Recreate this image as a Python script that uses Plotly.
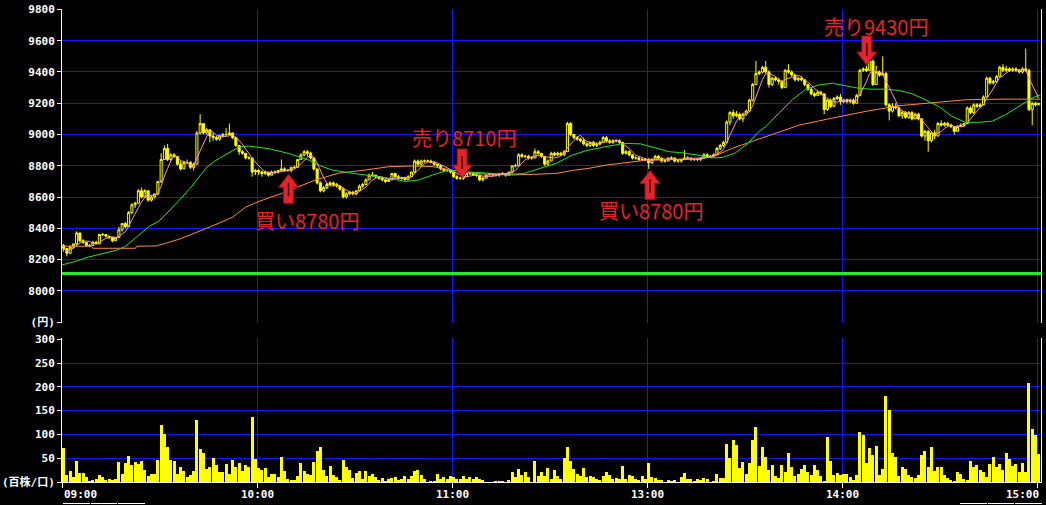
import plotly.graph_objects as go
import pandas as pd

# ---------------- data ----------------
# 1-minute bars, index 0 = 09:00 ... 149 = 11:29, 150 = 12:30 ... 300 = 15:00
SESSION_TICKS = [0, 60, 120, 180, 240, 300]
TICK_LABELS = ["09:00", "10:00", "11:00", "13:00", "14:00", "15:00"]

open_ = [
    8290, 8270, 8240, 8280, 8300, 8370, 8320, 8310, 8290, 8290,
    8310, 8300, 8360, 8360, 8350, 8340, 8320, 8340, 8390, 8430,
    8410, 8500, 8550, 8560, 8640, 8600, 8640, 8580, 8600, 8620,
    8700, 8840, 8910, 8840, 8870, 8860, 8810, 8780, 8820, 8820,
    8790, 8810, 9010, 9070, 9010, 9030, 8990, 8980, 8970, 8990,
    9000, 9000, 9010, 8980, 8930, 8890, 8880, 8850, 8850, 8760,
    8770, 8760, 8750, 8760, 8740, 8760, 8760, 8770, 8780, 8770,
    8770, 8790, 8790, 8840, 8870, 8890, 8880, 8850, 8780, 8690,
    8640, 8660, 8680, 8690, 8680, 8670, 8650, 8600, 8620, 8630,
    8620, 8640, 8670, 8680, 8710, 8740, 8740, 8730, 8720, 8710,
    8700, 8710, 8750, 8730, 8720, 8720, 8710, 8730, 8760, 8830,
    8810, 8830, 8830, 8830, 8820, 8810, 8800, 8780, 8770, 8770,
    8760, 8730, 8720, 8720, 8730, 8750, 8750, 8740, 8740, 8710,
    8720, 8740, 8750, 8740, 8740, 8750, 8750, 8740, 8760, 8800,
    8800, 8870, 8860, 8860, 8850, 8850, 8890, 8880, 8860, 8810,
    8830, 8880, 8870, 8880, 8870, 8890, 9070, 9000, 8980, 8970,
    8960, 8940, 8930, 8950, 8930, 8940, 8950, 8980, 8960, 8950,
    8960, 8960, 8950, 8880, 8890, 8870, 8850, 8850, 8840, 8840,
    8840, 8820, 8840, 8860, 8850, 8830, 8830, 8850, 8850, 8830,
    8830, 8840, 8850, 8850, 8840, 8840, 8840, 8850, 8870, 8860,
    8860, 8870, 8910, 8930, 8950, 9080, 9140, 9120, 9130, 9100,
    9130, 9150, 9220, 9320, 9390, 9400, 9430, 9400, 9320, 9360,
    9350, 9340, 9300, 9410, 9400, 9380, 9350, 9360, 9350, 9320,
    9290, 9260, 9250, 9270, 9260, 9160, 9220, 9180, 9230, 9240,
    9210, 9220, 9210, 9220, 9200, 9250, 9410, 9420, 9410, 9470,
    9320, 9400, 9380, 9390, 9190, 9150, 9180, 9170, 9120, 9140,
    9110, 9140, 9100, 9130, 9100, 8990, 9020, 8960, 9010, 8990,
    9070, 9060, 9070, 9060, 9050, 9020, 9050, 9060, 9070, 9170,
    9140, 9190, 9180, 9190, 9240, 9360, 9330, 9340, 9370, 9430,
    9410, 9420, 9410, 9420, 9410, 9400, 9420, 9410, 9160, 9200,
    9190,
]
high = [
    8300, 8270, 8290, 8300, 8380, 8370, 8330, 8310, 8300, 8320,
    8320, 8360, 8370, 8360, 8350, 8340, 8340, 8410, 8430, 8440,
    8510, 8560, 8570, 8650, 8660, 8650, 8640, 8610, 8620, 8700,
    8880, 8930, 8940, 8880, 8880, 8860, 8830, 8830, 8840, 8830,
    8820, 9020, 9130, 9070, 9040, 9030, 9010, 8990, 9000, 9010,
    9040, 9070, 9010, 8980, 8930, 8900, 8880, 8860, 8850, 8780,
    8780, 8770, 8770, 8760, 8770, 8770, 8770, 8840, 8790, 8780,
    8790, 8800, 8840, 8880, 8900, 8900, 8890, 8850, 8780, 8700,
    8670, 8690, 8700, 8700, 8690, 8670, 8660, 8630, 8640, 8640,
    8640, 8680, 8690, 8720, 8750, 8760, 8740, 8730, 8730, 8710,
    8720, 8750, 8750, 8740, 8730, 8730, 8740, 8760, 8840, 8840,
    8840, 8840, 8840, 8840, 8830, 8810, 8800, 8780, 8780, 8770,
    8760, 8740, 8730, 8730, 8760, 8760, 8760, 8750, 8740, 8730,
    8740, 8750, 8750, 8750, 8750, 8760, 8750, 8760, 8800, 8810,
    8880, 8880, 8870, 8870, 8860, 8910, 8900, 8880, 8860, 8840,
    8890, 8890, 8890, 8890, 8900, 9080, 9080, 9000, 8990, 8980,
    8980, 8950, 8950, 8960, 8950, 8960, 8990, 8990, 8970, 8970,
    8970, 8970, 8950, 8900, 8900, 8870, 8860, 8860, 8850, 8850,
    8850, 8850, 8870, 8870, 8850, 8840, 8850, 8860, 8850, 8840,
    8840, 8900, 8860, 8850, 8850, 8850, 8850, 8880, 8880, 8870,
    8880, 8920, 8940, 8960, 9090, 9150, 9160, 9150, 9140, 9140,
    9160, 9230, 9330, 9470, 9410, 9440, 9470, 9410, 9370, 9370,
    9360, 9350, 9420, 9450, 9410, 9390, 9370, 9370, 9350, 9320,
    9300, 9270, 9280, 9280, 9260, 9230, 9230, 9240, 9250, 9260,
    9230, 9230, 9230, 9230, 9260, 9420, 9430, 9440, 9480, 9480,
    9440, 9410, 9500, 9400, 9200, 9200, 9200, 9180, 9150, 9150,
    9150, 9150, 9140, 9140, 9100, 9030, 9030, 9020, 9030, 9080,
    9090, 9080, 9080, 9070, 9050, 9060, 9070, 9070, 9180, 9180,
    9200, 9200, 9200, 9250, 9370, 9370, 9350, 9380, 9440, 9450,
    9440, 9430, 9430, 9430, 9420, 9430, 9550, 9420, 9210, 9210,
    9200,
]
low = [
    8250, 8220, 8240, 8270, 8290, 8310, 8300, 8280, 8280, 8290,
    8300, 8300, 8350, 8340, 8330, 8310, 8320, 8340, 8380, 8400,
    8410, 8490, 8530, 8560, 8590, 8600, 8570, 8570, 8590, 8610,
    8690, 8840, 8830, 8830, 8850, 8800, 8770, 8780, 8810, 8780,
    8770, 8810, 9000, 9000, 9000, 8950, 8960, 8960, 8960, 8980,
    8990, 9000, 8970, 8920, 8870, 8870, 8840, 8840, 8730, 8740,
    8740, 8730, 8740, 8730, 8740, 8750, 8750, 8760, 8760, 8760,
    8760, 8780, 8790, 8840, 8860, 8860, 8840, 8770, 8680, 8630,
    8630, 8650, 8670, 8670, 8660, 8640, 8590, 8590, 8610, 8610,
    8610, 8640, 8660, 8680, 8710, 8730, 8720, 8710, 8700, 8690,
    8700, 8710, 8720, 8710, 8710, 8710, 8710, 8730, 8750, 8800,
    8800, 8820, 8820, 8820, 8800, 8790, 8770, 8760, 8760, 8750,
    8720, 8710, 8710, 8710, 8730, 8740, 8740, 8730, 8700, 8700,
    8720, 8740, 8730, 8730, 8730, 8740, 8730, 8740, 8750, 8790,
    8800, 8850, 8850, 8840, 8840, 8850, 8870, 8850, 8800, 8800,
    8830, 8860, 8860, 8860, 8860, 8890, 8990, 8970, 8960, 8950,
    8930, 8920, 8920, 8920, 8920, 8930, 8950, 8950, 8940, 8940,
    8950, 8940, 8870, 8870, 8860, 8840, 8840, 8830, 8830, 8830,
    8780, 8810, 8840, 8840, 8820, 8820, 8830, 8840, 8820, 8820,
    8820, 8840, 8840, 8830, 8830, 8830, 8830, 8850, 8850, 8850,
    8860, 8870, 8900, 8920, 8940, 9060, 9100, 9110, 9090, 9080,
    9120, 9150, 9210, 9320, 9380, 9390, 9390, 9300, 9310, 9340,
    9320, 9290, 9300, 9390, 9370, 9340, 9340, 9340, 9310, 9280,
    9250, 9240, 9250, 9250, 9130, 9150, 9170, 9180, 9220, 9190,
    9200, 9200, 9200, 9190, 9200, 9250, 9400, 9400, 9410, 9310,
    9320, 9370, 9380, 9180, 9090, 9140, 9160, 9110, 9100, 9100,
    9100, 9090, 9100, 9090, 8980, 8960, 8890, 8950, 8970, 8990,
    9050, 9050, 9050, 9040, 9000, 9020, 9050, 9050, 9070, 9130,
    9130, 9170, 9170, 9190, 9240, 9320, 9320, 9330, 9370, 9400,
    9400, 9400, 9400, 9400, 9390, 9390, 9400, 9150, 9060, 9180,
    9190,
]
close = [
    8270, 8240, 8280, 8300, 8370, 8320, 8310, 8290, 8290, 8310,
    8300, 8360, 8360, 8350, 8340, 8320, 8340, 8390, 8430, 8410,
    8500, 8550, 8560, 8640, 8600, 8640, 8580, 8600, 8620, 8700,
    8840, 8910, 8840, 8870, 8860, 8810, 8780, 8820, 8820, 8790,
    8810, 9010, 9070, 9010, 9030, 8990, 8980, 8970, 8990, 9000,
    9000, 9010, 8980, 8930, 8890, 8880, 8850, 8850, 8760, 8770,
    8760, 8750, 8760, 8740, 8760, 8760, 8770, 8780, 8770, 8770,
    8790, 8790, 8840, 8870, 8890, 8880, 8850, 8780, 8690, 8640,
    8660, 8680, 8690, 8680, 8670, 8650, 8600, 8620, 8630, 8620,
    8640, 8670, 8680, 8710, 8740, 8740, 8730, 8720, 8710, 8700,
    8710, 8750, 8730, 8720, 8720, 8710, 8730, 8760, 8830, 8810,
    8830, 8830, 8830, 8820, 8810, 8800, 8780, 8770, 8770, 8760,
    8730, 8720, 8720, 8730, 8750, 8750, 8740, 8740, 8710, 8720,
    8740, 8750, 8740, 8740, 8750, 8750, 8740, 8760, 8800, 8800,
    8870, 8860, 8860, 8850, 8850, 8890, 8880, 8860, 8810, 8830,
    8880, 8870, 8880, 8870, 8890, 9070, 9000, 8980, 8970, 8960,
    8940, 8930, 8950, 8930, 8940, 8950, 8980, 8960, 8950, 8960,
    8960, 8950, 8880, 8890, 8870, 8850, 8850, 8840, 8840, 8840,
    8820, 8840, 8860, 8850, 8830, 8830, 8850, 8850, 8830, 8830,
    8840, 8850, 8850, 8840, 8840, 8840, 8850, 8870, 8860, 8860,
    8870, 8910, 8930, 8950, 9080, 9140, 9120, 9130, 9100, 9130,
    9150, 9220, 9320, 9390, 9400, 9430, 9400, 9320, 9360, 9350,
    9340, 9300, 9410, 9400, 9380, 9350, 9360, 9350, 9320, 9290,
    9260, 9250, 9270, 9260, 9160, 9220, 9180, 9230, 9240, 9210,
    9220, 9210, 9220, 9200, 9250, 9410, 9420, 9410, 9470, 9320,
    9400, 9380, 9390, 9190, 9150, 9180, 9170, 9120, 9140, 9110,
    9140, 9100, 9130, 9100, 8990, 9020, 8960, 9010, 8990, 9070,
    9060, 9070, 9060, 9050, 9020, 9050, 9060, 9070, 9170, 9140,
    9190, 9180, 9190, 9240, 9360, 9330, 9340, 9370, 9430, 9410,
    9420, 9410, 9420, 9410, 9400, 9420, 9410, 9160, 9200, 9190,
    9200,
]
# volume in units of 100 shares
volume = [
    72, 14, 24, 10, 45, 18, 18, 10, 3, 5,
    7, 15, 10, 4, 7, 5, 7, 43, 17, 40,
    55, 35, 42, 38, 45, 26, 12, 16, 16, 47,
    120, 101, 74, 47, 45, 16, 32, 24, 10, 14,
    24, 130, 70, 60, 28, 32, 51, 36, 20, 20,
    37, 16, 46, 32, 39, 24, 36, 32, 136, 49,
    29, 26, 30, 10, 17, 17, 10, 53, 24, 7,
    5, 5, 13, 40, 24, 17, 15, 42, 66, 74,
    26, 13, 34, 15, 10, 5, 47, 32, 26, 9,
    19, 24, 7, 24, 13, 17, 11, 5, 9, 3,
    7, 9, 11, 5, 7, 12, 7, 12, 24, 26,
    15, 7, 0, 2, 2, 17, 7, 10, 7, 12,
    10, 7, 7, 12, 7, 10, 7, 10, 7, 5,
    0, 0, 0, 2, 2, 2, 0, 5, 20, 10,
    28, 15, 22, 10, 0, 44, 12, 22, 12, 30,
    7, 26, 13, 7, 51, 74, 44, 28, 17, 13,
    30, 10, 13, 10, 7, 5, 12, 22, 15, 7,
    9, 7, 34, 7, 15, 13, 7, 5, 12, 7,
    40, 11, 9, 5, 5, 0, 5, 3, 5, 0,
    11, 19, 7, 7, 3, 7, 5, 9, 7, 0,
    3, 17, 9, 9, 80, 51, 88, 78, 30, 42,
    17, 40, 88, 115, 34, 74, 53, 26, 36, 13,
    9, 35, 20, 61, 31, 12, 16, 28, 35, 22,
    14, 35, 26, 12, 3, 95, 45, 14, 19, 14,
    17, 16, 10, 5, 15, 105, 99, 39, 72, 56,
    76, 15, 28, 180, 151, 61, 53, 12, 32, 28,
    14, 10, 9, 15, 57, 65, 31, 74, 24, 32,
    32, 14, 9, 5, 3, 22, 17, 7, 5, 44,
    31, 36, 26, 22, 11, 38, 53, 32, 38, 26,
    61, 49, 34, 38, 22, 40, 22, 209, 111, 99,
    59,
]

# medium moving average (green): bar index / price
ma_mid_idx = [0, 4, 8, 12, 16.5, 19.6, 21.6, 24.7, 27, 29.8, 31.9, 35, 40, 44.5,
              47, 50.4, 54.5, 57.5, 60.6, 63.7, 69.8, 76, 79, 83, 88, 94, 100.6,
              105.7, 109.8, 114, 119, 124, 131, 137, 142, 147, 152, 157, 161, 167,
              173, 178, 183, 187, 190, 195, 200, 203, 207, 211, 214.5, 216.5, 220.6,
              224.7, 228.8, 232.9, 237, 241, 245, 249, 253, 257.5, 261.6, 265.6,
              269.7, 273.8, 277.9, 282, 286.2, 290.3, 294.4, 298.5, 301]
ma_mid_val = [8166, 8187, 8215, 8237, 8258, 8285, 8320, 8380, 8415, 8445, 8490, 8555,
              8670, 8790, 8830, 8870, 8921, 8926, 8917, 8909, 8878, 8836, 8804, 8773,
              8756, 8741, 8720, 8699, 8709, 8741, 8773, 8762, 8755, 8745, 8750, 8783,
              8815, 8868, 8895, 8921, 8943, 8940, 8911, 8889, 8885, 8870, 8850, 8853,
              8880, 8943, 9021, 9050, 9138, 9222, 9290, 9317, 9328, 9311, 9296, 9290,
              9290, 9282, 9260, 9222, 9180, 9116, 9078, 9078, 9085, 9127, 9180, 9233,
              9254]
# long moving average (orange)
ma_long_idx = [0, 9, 9.5, 22.6, 23, 29, 31.9, 36, 40, 44, 48, 52.4, 56.5, 60.6, 67.8,
               78, 85, 93.4, 100.6, 106.7, 114, 119, 125, 131, 137.5, 145, 152, 157,
               162, 167.3, 173.4, 179.5, 186.7, 190, 196, 200, 206, 216.5, 226.8, 237,
               247.3, 257.5, 267.8, 278, 288.3, 301]
ma_long_val = [8285, 8285, 8272, 8272, 8285, 8287, 8304, 8330, 8362, 8395, 8430, 8470,
               8535, 8572, 8625, 8709, 8752, 8773, 8794, 8798, 8795, 8775, 8755, 8745,
               8741, 8745, 8751, 8770, 8783, 8804, 8819, 8835, 8838, 8842, 8852, 8855,
               8910, 8985, 9060, 9105, 9148, 9184, 9205, 9222, 9226, 9226]

ref_price = 8110          # bright green horizontal reference line
price_ticks = [7800, 8000, 8200, 8400, 8600, 8800, 9000, 9200, 9400, 9600, 9800]
volume_ticks = [0, 50, 100, 150, 200, 250, 300]

signal_text = ["買い8780円", "売り8710円", "買い8780円", "売り9430円"]
signal_side = ["buy", "sell", "buy", "sell"]

n = len(close)
assert len(open_) == n and len(high) == n and len(low) == n and len(volume) == n, \
    (len(open_), len(high), len(low), len(close), len(volume))

xs = [i + 0.5 for i in range(n)]
ma_short = pd.Series(close).rolling(5, min_periods=1).mean().tolist()   # pink 5-bar MA

# ---------------- styling / layout ----------------
W, H = 1046, 505
ML, MR, MT, MB = 62, 5, 9, 23
PW, PH = W - ML - MR, H - MT - MB
X_RANGE = [0, 301.2]

def fx(px):
    return (px - ML) / PW

def fy(py):
    return (H - MB - py) / PH

BLUE = "#1414ff"
YELLOW = "#ffff00"
RED = "#e8222a"
TICKFONT = dict(family="DejaVu Sans Mono, Noto Sans CJK JP", size=11, color="white", weight="bold")

fig = go.Figure()

fig.add_trace(go.Bar(x=xs, y=volume, width=0.92, marker=dict(color=YELLOW, line=dict(width=0)),
                     xaxis="x", yaxis="y", showlegend=False, hoverinfo="skip"))

fig.add_trace(go.Candlestick(
    x=xs, open=open_, high=high, low=low, close=close, xaxis="x2", yaxis="y2",
    increasing=dict(line=dict(color=YELLOW, width=1), fillcolor="#000000"),
    decreasing=dict(line=dict(color=YELLOW, width=1), fillcolor=YELLOW),
    whiskerwidth=0, showlegend=False, hoverinfo="skip"))

fig.add_trace(go.Scatter(x=ma_long_idx, y=ma_long_val, mode="lines", xaxis="x2", yaxis="y2",
                         line=dict(color="#ff8a40", width=1), showlegend=False, hoverinfo="skip"))
fig.add_trace(go.Scatter(x=ma_mid_idx, y=ma_mid_val, mode="lines", xaxis="x2", yaxis="y2",
                         line=dict(color="#22e622", width=1), showlegend=False, hoverinfo="skip"))
fig.add_trace(go.Scatter(x=xs, y=ma_short, mode="lines", xaxis="x2", yaxis="y2",
                         line=dict(color="#ff8fcf", width=1), showlegend=False, hoverinfo="skip"))

shapes = []
# reference price line
shapes.append(dict(type="line", xref="x2 domain", yref="y2", x0=0, x1=1, y0=ref_price, y1=ref_price,
                   line=dict(color="#22ee22", width=3), layer="above"))

# block arrows (pixel geometry anchored at the signal bar / price)
arrow_anchor = [(69.7, 8745), (123.1, 8722), (180.9, 8770), (247.6, 9445)]
up_path = "M0,0 L10,-13 L5,-13 L5,-29 L-5,-29 L-5,-13 L-10,-13 Z"
dn_path = "M0,0 L10,13 L5,13 L5,29 L-5,29 L-5,13 L-10,13 Z"
for side, (ax, ay) in zip(signal_side, arrow_anchor):
    path = up_path if side == "buy" else dn_path
    shapes.append(dict(type="path", path=path, xref="x2", yref="y2", xsizemode="pixel",
                       ysizemode="pixel", xanchor=ax, yanchor=ay,
                       fillcolor=RED, line=dict(color="#9a0f14", width=1), layer="above"))
    s = -1 if side == "buy" else 1
    shapes.append(dict(type="path", path=f"M0,{s*9} L0,{s*22}", xref="x2", yref="y2",
                       xsizemode="pixel", ysizemode="pixel", xanchor=ax, yanchor=ay,
                       line=dict(color="#3a0000", width=1.5), layer="above"))

# small white marks along the bottom edge
for a, b in [(63, 90), (91, 117), (118, 145), (960, 987), (988, 1014), (1015, 1042)]:
    shapes.append(dict(type="line", xref="paper", yref="paper", x0=fx(a), x1=fx(b),
                       y0=fy(503.5), y1=fy(503.5), line=dict(color="white", width=1)))

annotations = []
label_pos = [(75.4, 8450), (123.8, 8982), (181.3, 8515), (250.5, 9690)]
for txt, (lx, ly) in zip(signal_text, label_pos):
    annotations.append(dict(text=txt, x=lx, y=ly, xref="x2", yref="y2", showarrow=False,
                            xanchor="center", yanchor="middle",
                            font=dict(family="Noto Sans CJK JP", size=20, color=RED)))
for i, (t, lab) in enumerate(zip(SESSION_TICKS, TICK_LABELS)):
    if i == 0:
        xa, xx = "left", t
    elif i == len(SESSION_TICKS) - 1:
        xa, xx = "right", X_RANGE[1]
    else:
        xa, xx = "center", t
    annotations.append(dict(text=lab, x=xx, y=0, xref="x", yref="paper", showarrow=False,
                            xanchor=xa, yanchor="top", yshift=-4, font=TICKFONT))

axis_common = dict(showgrid=True, gridcolor=BLUE, gridwidth=1, zeroline=False, fixedrange=True)

fig.update_layout(
    width=W, height=H, margin=dict(l=ML, r=MR, t=MT, b=MB, pad=0),
    paper_bgcolor="black", plot_bgcolor="black",
    template="none", hovermode=False, boxgap=0.1, bargap=0,
    font=dict(family="DejaVu Sans Mono, Noto Sans CJK JP", color="white"),
    xaxis=dict(axis_common, domain=[0, 1], anchor="y", range=X_RANGE, tickvals=SESSION_TICKS,
               showticklabels=False, ticks="outside", ticklen=5, tickcolor="white", tickwidth=1,
               showline=True, linecolor="white", linewidth=1, rangeslider=dict(visible=False),
               automargin=False),
    xaxis2=dict(axis_common, domain=[0, 1], anchor="y2", matches="x", range=X_RANGE,
                tickvals=SESSION_TICKS, showticklabels=False, ticks="", showline=False,
                rangeslider=dict(visible=False), automargin=False),
    yaxis=dict(axis_common, domain=[0, fy(338.3)], anchor="x", range=[0, 302],
               tickvals=volume_ticks, ticktext=["(百株/口)"] + [str(v) for v in volume_ticks[1:]],
               ticks="outside", ticklen=4, tickcolor="white", tickfont=TICKFONT,
               showline=True, linecolor="white", linewidth=1, mirror=True, automargin=False),
    yaxis2=dict(axis_common, domain=[fy(322.5), 1], anchor="x2", range=[7797, 9803],
                tickvals=price_ticks, ticktext=["(円)"] + [str(v) for v in price_ticks[1:]],
                ticks="outside", ticklen=4, tickcolor="white", tickfont=TICKFONT,
                showline=True, linecolor="white", linewidth=1, mirror=True, automargin=False),
    shapes=shapes, annotations=annotations,
)

fig.write_html(
    "out.html",
    config={"displayModeBar": False, "staticPlot": True},
    post_script="document.body.style.margin='0';document.body.style.padding='0';"
                "document.body.style.overflow='hidden';document.body.style.background='black';",
)
